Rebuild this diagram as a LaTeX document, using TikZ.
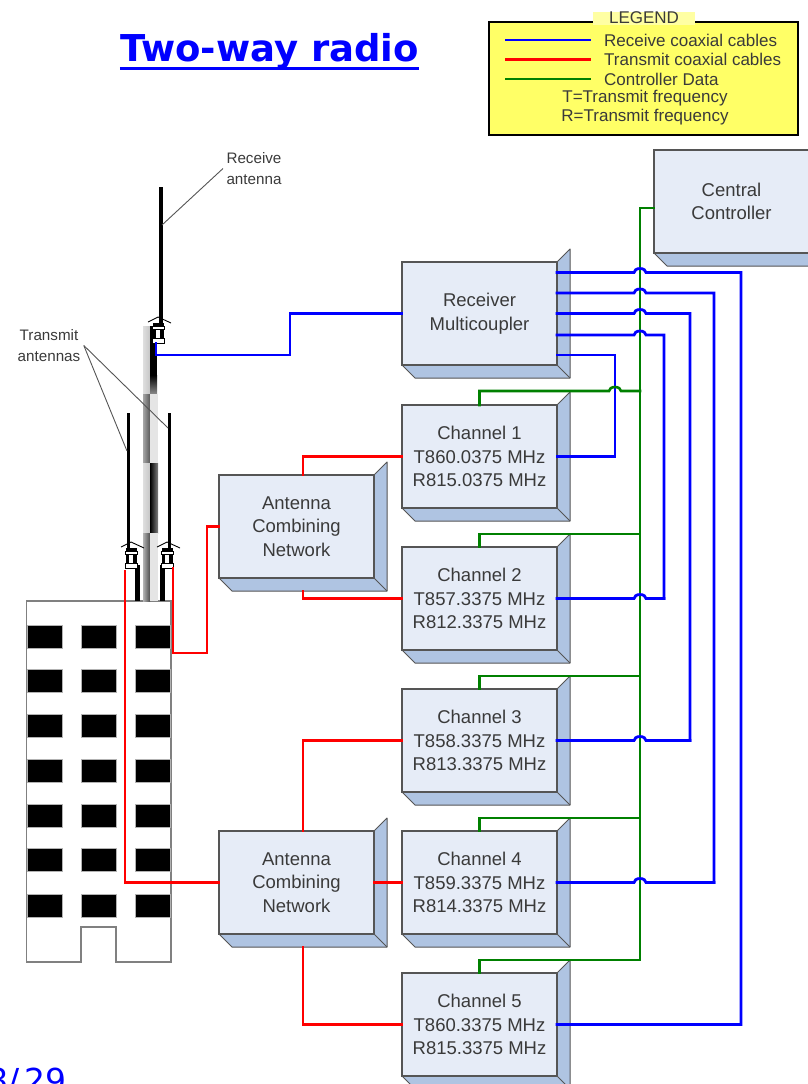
\documentclass[tikz,border=0pt]{standalone}
\usepackage{fontspec}
\setmainfont{Liberation Sans}
\newfontfamily\titlefont{DejaVu Sans}
\usepackage{xcolor}
\usepackage{tikz}
\usetikzlibrary{
	positioning,                % For "below=39pt of node" syntax
	shadings
}
\definecolor{boxface}{HTML}{E6ECF7}
\definecolor{boxside}{HTML}{AFC4E2}
\definecolor{boxedge}{HTML}{555555}
\definecolor{inktext}{HTML}{3A3A3A}
\definecolor{legendfill}{HTML}{FFFF66}
\definecolor{ctlgreen}{HTML}{008000}
\tikzset{
	unit/.style={
		rectangle,
		draw=boxedge,
		line width=1.2pt,
		fill=boxface,
		text=inktext,
		align=center,
		font=\fontsize{18.5}{23.6}\selectfont,
		minimum width=155pt,
		minimum height=103pt,
		inner sep=0pt,
		outer sep=0pt,
		append after command={
			\pgfextra{\begin{pgfinterruptpath}
				\filldraw[boxside, draw=boxedge, line width=1pt, line join=round]
					(\tikzlastnode.north east) -- ++(13pt,13pt) -- ([shift={(13pt,-13pt)}]\tikzlastnode.south east)
					-- ([shift={(-142pt,-13pt)}]\tikzlastnode.south east) -- (\tikzlastnode.south west)
					-- (\tikzlastnode.south east) -- cycle;
				\draw[boxedge, line width=1pt] (\tikzlastnode.south east) -- ++(13pt,-13pt);
			\end{pgfinterruptpath}}
		}
	},
	rxcable/.style={draw=blue, line width=2.8pt, line cap=rect},
	txcable/.style={draw=red, line width=2.8pt, line cap=rect},
	ctlcable/.style={draw=ctlgreen, line width=2.6pt, line cap=rect},
	leader/.style={draw=boxedge, line width=0.9pt},
	callout/.style={text=inktext, align=center, font=\fontsize{15.2}{21}\selectfont},
	keytext/.style={text=inktext, align=center, font=\fontsize{17}{19.5}\selectfont, inner sep=0pt},
	wndow/.style={fill=black, draw=gray!60, line width=0.5pt},
	antcon/.pic={
		% skirt, barrels and body of an antenna connector
		\draw[black, line width=0.9pt] (-10,4) -- (0,-1) -- (13,5);
		\fill[black] (-5,5) rectangle (6,25);
		\fill[white] (-2,8) rectangle (2,24);
		\filldraw[fill=white, draw=black, line width=0.9pt] (-6,8) rectangle (6,11);
		\filldraw[fill=white, draw=black, line width=0.9pt] (-6,20) rectangle (6,25);
	}
}
% jump of a wire going rightwards over the vertical through #2
\newcommand{\hopover}[2]{-- ([xshift=-6pt]#1 -| #2) arc[start angle=180, end angle=0, x radius=6pt, y radius=4pt]}

\begin{document}
\begin{tikzpicture}[x=1pt, y=-1pt]
	\useasboundingbox (0,0) rectangle (808,1084);

	% Title
	\node [text=blue, font=\titlefont\fontsize{37}{40}\selectfont\bfseries, inner sep=0pt, anchor=base] (title) at (269.5,61) {Two-way radio};
	\draw [blue, line width=3.4pt] (title.west |- 0,68.5) coordinate (ruleA) -- (title.east |- ruleA);

	% Legend
	\node [draw=black, line width=2pt, fill=legendfill, minimum width=309pt, minimum height=113pt, inner sep=0pt] (legend) at (643.5,78) {};
	\node [fill=legendfill!60, font=\fontsize{17}{19}\selectfont, text=inktext, minimum width=102pt, minimum height=13pt, inner sep=0pt] (legendtitle) at (644,18) {LEGEND};
	\foreach \y/\cable/\txt in {40/rxcable/Receive coaxial cables, 59.5/txcable/Transmit coaxial cables, 79/ctlcable/Controller Data}{
		\node [keytext, anchor=west] (key\y) at (604,\y) {\txt};
		\draw [\cable, line cap=butt] (505,\y) coordinate (keyA) -- (591,\y);
	}
	\node [keytext] (keyT) at (645,98) {T=Transmit frequency};
	\node [keytext] (keyR) at (645,117) {R=Transmit frequency};

	% Building
	\draw [draw=gray, line width=1.4pt, fill=white] (26.5,601) -- (171,601) -- (171,962) -- (116,962) -- (116,927) -- (81,927) -- (81,962) -- (26.5,962) -- cycle;
	\foreach \y in {625,669,714,759,804,848,894}{
		\foreach \x in {27,81,135}{
			\path [wndow] (\x,\y) rectangle ++(35,23);
		}
	}

	% Mast sections
	\fill [left color=gray!25, right color=gray!45] (143,326) rectangle (150,394);
	\fill [black] (150,326) rectangle (157,375);
	\fill [top color=black, bottom color=gray!90] (150,375) rectangle (157,394);
	\fill [left color=gray!70, right color=black!65] (143,394) rectangle (150,463);
	\fill [gray!20] (150,394) rectangle (158,463);
	\fill [left color=gray!25, right color=gray!45] (143,463) rectangle (150,533);
	\fill [left color=black, right color=gray] (150,463) rectangle (158,533);
	\fill [left color=gray!60, right color=black!70] (143,533) rectangle (150,601);
	\fill [gray!20] (150,533) rectangle (158,601);

	% Antennas
	\fill [black] (159,187) rectangle (162.5,326);
	\fill [black] (126.5,413) rectangle (130,548);
	\fill [black] (167.5,413) rectangle (171,548);
	\fill [black] (135,565) rectangle (139.5,601);
	\fill [black] (160,565) rectangle (165,601);
	\path (158,318) pic {antcon};
	\path (131,543) pic {antcon};
	\path (167,543) pic {antcon};
	\coordinate (rxfeed) at (156,343);
	\coordinate (txfeedL) at (125,571);
	\coordinate (txfeedR) at (173,568);

	\node [callout] (rxlabel) at (254,168.5) {Receive\\antenna};
	\node [callout] (txlabel) at (49,345.5) {Transmit\\antennas};
	\coordinate (rxtip) at (162,225);
	\coordinate (txtipL) at (127,451);
	\coordinate (txtipR) at (168,428);
	\draw [leader] (rxlabel.west) -- (rxtip);
	\draw [leader] (txlabel.east) -- (txtipL);
	\draw [leader] (txlabel.east) -- (txtipR);

	% Equipment
	\node [unit] (ctrl) at (731.5,201.5) {Central\\Controller};
	\node [unit] (multi) at (479.5,313.5) {Receiver\\Multicoupler};
	\node [unit, below=40pt of multi] (chan1) {Channel 1\\T860.0375 MHz\\R815.0375 MHz};
	\node [unit, below=39pt of chan1] (chan2) {Channel 2\\T857.3375 MHz\\R812.3375 MHz};
	\node [unit, below=39pt of chan2] (chan3) {Channel 3\\T858.3375 MHz\\R813.3375 MHz};
	\node [unit, below=39pt of chan3] (chan4) {Channel 4\\T859.3375 MHz\\R814.3375 MHz};
	\node [unit, below=39pt of chan4] (chan5) {Channel 5\\T860.3375 MHz\\R815.3375 MHz};
	\node [unit, left=28pt of chan4] (net2) {Antenna\\Combining\\Network};
	\node [unit, left=28pt of chan1, yshift=-70pt] (net1) {Antenna\\Combining\\Network};

	% Transmit cables
	\coordinate (netjog) at (207,653);
	\draw [txcable] (chan1.west) -| ([xshift=6.5pt]net1.north);
	\draw [txcable] (chan2.west) -| ([shift={(6.5pt,-13pt)}]net1.south);
	\draw [txcable] (net1.west) -| (netjog) -| (txfeedR);
	\draw [txcable] (chan3.west) -| ([xshift=6.5pt]net2.north);
	\draw [txcable] (chan4.west) -- (net2.east);
	\draw [txcable] (chan5.west) -| ([shift={(6.5pt,-13pt)}]net2.south);
	\draw [txcable] (net2.west) -| (txfeedL);

	% Receive cable of the first channel runs under the data line
	\coordinate (busbar) at (640,960);
	\coordinate (rise1) at (615,0);
	\draw [rxcable] ([yshift=-41.5pt]multi.east) -| (rise1 |- chan1.east) -- (chan1.east);

	% Controller data
	\draw [ctlcable] ([yshift=-6.5pt]ctrl.west) -| (busbar) -| (chan5.north);
	\foreach \c in {2,3,4}{
		\draw [ctlcable] (chan\c.north) |- ([yshift=13pt]chan\c.north -| busbar);
	}
	\coordinate (tap1) at ([yshift=14pt]chan1.north);
	\draw [ctlcable] (chan1.north) -- (tap1) \hopover{tap1}{rise1} -- (tap1 -| busbar);

	% Receive cables
	\coordinate (rxjog) at (290,355);
	\draw [rxcable] (multi.west) -| (rxjog) -| (rxfeed);
	\foreach \c/\off/\xr in {2/-21.5/664, 3/0/690, 4/20.5/714}{
		\coordinate (rise) at (\xr,0);
		\coordinate (tap) at ([yshift=\off pt]multi.east);
		\draw [rxcable] (tap) \hopover{tap}{busbar} -- (tap -| rise) -- (rise |- chan\c.east);
		\draw [rxcable] (chan\c.east) \hopover{chan\c.east}{busbar} -- (rise |- chan\c.east);
	}
	\coordinate (rise5) at (741,0);
	\coordinate (tap5) at ([yshift=41pt]multi.east);
	\draw [rxcable] (tap5) \hopover{tap5}{busbar} -- (tap5 -| rise5) |- (chan5.east);

	% Page number
	\node [text=blue, font=\titlefont\fontsize{33}{36}\selectfont, inner sep=0pt, anchor=base west] (pagenum) at (-13,1092) {8/\,29};
\end{tikzpicture}
\end{document}
